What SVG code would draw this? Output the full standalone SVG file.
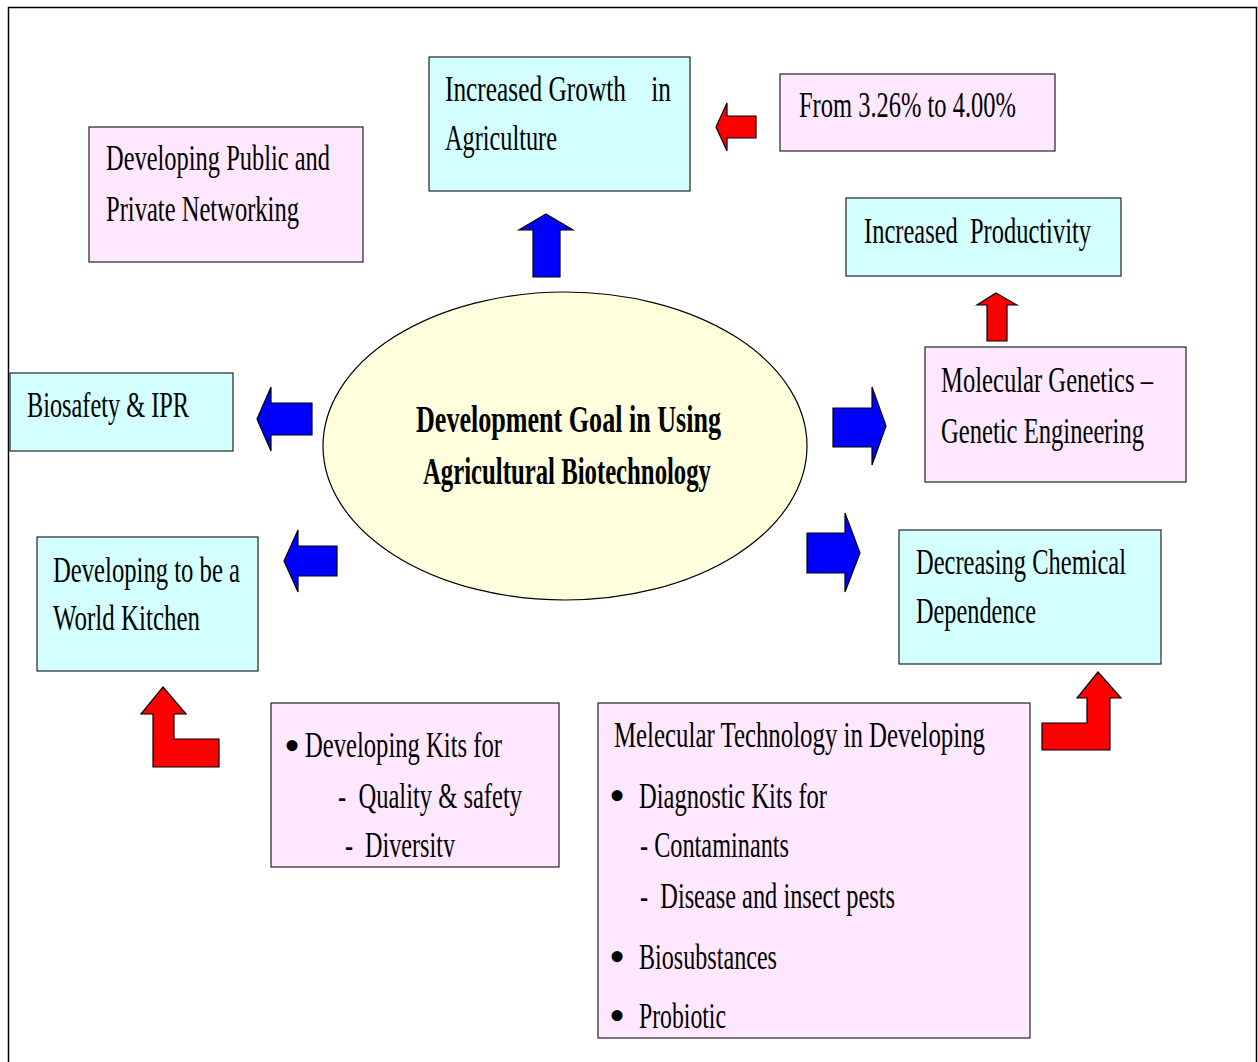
<svg xmlns="http://www.w3.org/2000/svg" width="1258" height="1062" viewBox="0 0 1258 1062">
<style>
.c{fill:#d4ffff;stroke:#222;stroke-width:1.2}
.p{fill:#ffe8ff;stroke:#222;stroke-width:1.2}
.t{font-family:'Liberation Serif','Times New Roman',serif;font-size:36px;fill:#000}
.d{font-family:'Liberation Serif','Times New Roman',serif;font-size:46px;fill:#000}
.b{font-family:'Liberation Serif','Times New Roman',serif;font-size:37px;font-weight:bold;fill:#000}
.ab{fill:#0000ff;stroke:#000;stroke-width:1.2;stroke-linejoin:miter}
.ar{fill:#ff0000;stroke:#000;stroke-width:1.2;stroke-linejoin:miter}
</style>
<defs>
<clipPath id="clipKits"><rect x="271" y="703" width="288" height="154"/></clipPath>
</defs>
<rect x="0" y="0" width="1258" height="1062" fill="#fff"/>
<rect x="8.5" y="7.5" width="1248" height="1080" fill="none" stroke="#000" stroke-width="1.5"/>

<g id="center">
<ellipse cx="565" cy="446" rx="242" ry="154" fill="#ffffdd" stroke="#000" stroke-width="1.2"/>
<text class="b" x="416" y="432" textLength="305" lengthAdjust="spacingAndGlyphs">Development Goal in Using</text>
<text class="b" x="423" y="484" textLength="288" lengthAdjust="spacingAndGlyphs">Agricultural Biotechnology</text>
</g>

<g id="growth">
<rect class="c" x="429" y="57" width="261" height="134"/>
<text class="t" x="445" y="101" textLength="226" lengthAdjust="spacingAndGlyphs" xml:space="preserve">Increased Growth    in</text>
<text class="t" x="445" y="150" textLength="112" lengthAdjust="spacingAndGlyphs">Agriculture</text>
</g>

<g id="from">
<rect class="p" x="780" y="74" width="275" height="77"/>
<text class="t" x="799" y="117" textLength="217" lengthAdjust="spacingAndGlyphs">From 3.26% to 4.00%</text>
</g>

<g id="networking">
<rect class="p" x="89" y="127" width="274" height="135"/>
<text class="t" x="106" y="170" textLength="224" lengthAdjust="spacingAndGlyphs">Developing Public and</text>
<text class="t" x="106" y="221" textLength="193" lengthAdjust="spacingAndGlyphs">Private Networking</text>
</g>

<g id="productivity">
<rect class="c" x="846" y="198" width="275" height="78"/>
<text class="t" x="864" y="243" textLength="227" lengthAdjust="spacingAndGlyphs" xml:space="preserve">Increased  Productivity</text>
</g>

<g id="molgen">
<rect class="p" x="925" y="347" width="261" height="135"/>
<text class="t" x="941" y="392" textLength="212" lengthAdjust="spacingAndGlyphs">Molecular Genetics –</text>
<text class="t" x="941" y="443" textLength="203" lengthAdjust="spacingAndGlyphs">Genetic Engineering</text>
</g>

<g id="biosafety">
<rect class="c" x="10" y="373" width="223" height="78"/>
<text class="t" x="27" y="417" textLength="162" lengthAdjust="spacingAndGlyphs">Biosafety &amp; IPR</text>
</g>

<g id="kitchen">
<rect class="c" x="37" y="537" width="221" height="134"/>
<text class="t" x="53" y="582" textLength="187" lengthAdjust="spacingAndGlyphs">Developing to be a</text>
<text class="t" x="53" y="630" textLength="147" lengthAdjust="spacingAndGlyphs">World Kitchen</text>
</g>

<g id="chemical">
<rect class="c" x="899" y="530" width="262" height="134"/>
<text class="t" x="916" y="574" textLength="210" lengthAdjust="spacingAndGlyphs">Decreasing Chemical</text>
<text class="t" x="916" y="623" textLength="120" lengthAdjust="spacingAndGlyphs">Dependence</text>
</g>

<g id="kits">
<rect class="p" x="271" y="703" width="288" height="164"/>
<g clip-path="url(#clipKits)">
<text class="d" x="284" y="761">•</text>
<text class="t" x="305" y="757" textLength="197" lengthAdjust="spacingAndGlyphs">Developing Kits for</text>
<text class="t" x="338" y="808" textLength="184" lengthAdjust="spacingAndGlyphs" xml:space="preserve">-  Quality &amp; safety</text>
<text class="t" x="345" y="857" textLength="110" lengthAdjust="spacingAndGlyphs" xml:space="preserve">-  Diversity</text>
</g>
</g>

<g id="moltech">
<rect class="p" x="598" y="703" width="432" height="335"/>
<text class="t" x="614" y="747" textLength="371" lengthAdjust="spacingAndGlyphs">Melecular Technology in Developing</text>
<text class="d" x="609" y="811">•</text>
<text class="t" x="639" y="808" textLength="188" lengthAdjust="spacingAndGlyphs">Diagnostic Kits for</text>
<text class="t" x="640" y="857" textLength="149" lengthAdjust="spacingAndGlyphs">- Contaminants</text>
<text class="t" x="640" y="908" textLength="255" lengthAdjust="spacingAndGlyphs" xml:space="preserve">-  Disease and insect pests</text>
<text class="d" x="609" y="972">•</text>
<text class="t" x="639" y="969" textLength="138" lengthAdjust="spacingAndGlyphs">Biosubstances</text>
<text class="d" x="609" y="1031">•</text>
<text class="t" x="639" y="1028" textLength="87" lengthAdjust="spacingAndGlyphs">Probiotic</text>
</g>

<g id="connectors">
<polygon class="ab" points="546,214 573,230 560,230 560,277 533,277 533,230 519,230"/>
<polygon class="ar" points="716,127 727,103 727,116 756,116 756,138 727,138 727,151"/>
<polygon class="ar" points="996,293 1017,305 1007,305 1007,341 987,341 987,305 977,305"/>
<polygon class="ab" points="886,426 872,387 872,408 833,408 833,447 872,447 872,465"/>
<polygon class="ab" points="860,553 845,513 845,533 807,533 807,573 845,573 845,592"/>
<polygon class="ab" points="257,419 271,387 271,403 312,403 312,435 271,435 271,451"/>
<polygon class="ab" points="284,561 298,530 298,546 337,546 337,576 298,576 298,592"/>
<polygon class="ar" points="163,687 186,714 174,714 174,739 219,739 219,767 153,767 153,714 141,714"/>
<polygon class="ar" points="1098,672 1121,698 1110,698 1110,750 1042,750 1042,723 1087,723 1087,698 1077,698"/>
</g>
</svg>
